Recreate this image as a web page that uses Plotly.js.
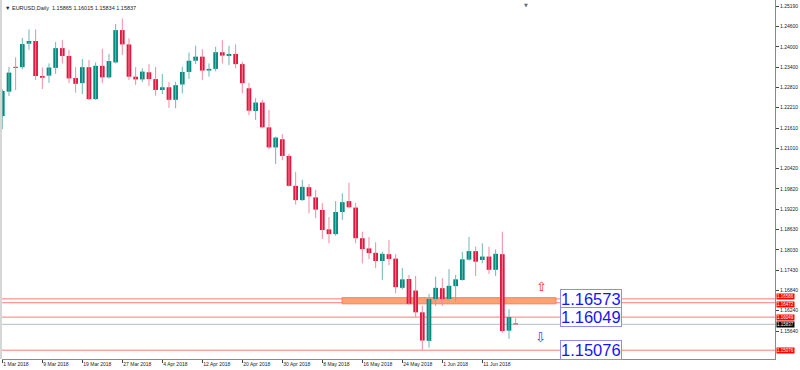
<!DOCTYPE html>
<html>
<head>
<meta charset="utf-8">
<script src="https://cdn.plot.ly/plotly-3.0.1.min.js"></script>
<style>html,body{margin:0;padding:0;background:#fff;}#chart{width:800px;height:370px;}</style>
</head>
<body>
<div id="chart"></div>
<script>
// EURUSD Daily, 1 Mar 2018 - 18 Jun 2018 (bar index 0..77)
const dates = ["1 Mar","2 Mar","5 Mar","6 Mar","7 Mar","8 Mar","9 Mar","12 Mar","13 Mar","14 Mar","15 Mar","16 Mar","19 Mar","20 Mar","21 Mar","22 Mar","23 Mar","26 Mar","27 Mar","28 Mar","29 Mar","30 Mar",
"2 Apr","3 Apr","4 Apr","5 Apr","6 Apr","9 Apr","10 Apr","11 Apr","12 Apr","13 Apr","16 Apr","17 Apr","18 Apr","19 Apr","20 Apr","23 Apr","24 Apr","25 Apr","26 Apr","27 Apr","30 Apr",
"1 May","2 May","3 May","4 May","7 May","8 May","9 May","10 May","11 May","14 May","15 May","16 May","17 May","18 May","21 May","22 May","23 May","24 May","25 May","28 May","29 May","30 May","31 May",
"1 Jun","4 Jun","5 Jun","6 Jun","7 Jun","8 Jun","11 Jun","12 Jun","13 Jun","14 Jun","15 Jun","18 Jun"];
const open  = [1.2196,1.2268,1.2341,1.2340,1.2409,1.2417,1.2314,1.2315,1.2338,1.2396,1.2373,1.2308,1.2293,1.2340,1.2246,1.2344,1.2310,1.2354,1.2449,1.2407,1.2312,1.2304,
1.2325,1.2305,1.2273,1.2281,1.2244,1.2289,1.2326,1.2359,1.2371,1.2330,1.2335,1.2384,1.2373,1.2379,1.2349,1.2278,1.2211,1.2236,1.2163,1.2104,1.2128,
1.2079,1.1991,1.1949,1.1987,1.1957,1.1920,1.1863,1.1849,1.1914,1.1946,1.1927,1.1837,1.1807,1.1794,1.1770,1.1790,1.1777,1.1691,1.1717,1.1683,1.1619,1.1535,1.1658,
1.1690,1.1658,1.1696,1.1714,1.1774,1.1799,1.1773,1.1783,1.1744,1.1790,1.1565,1.15865];
const high  = [1.2275,1.2341,1.2369,1.2426,1.2451,1.2451,1.2339,1.2351,1.2414,1.2420,1.2391,1.2340,1.2364,1.2361,1.2354,1.2394,1.2379,1.2467,1.2483,1.2425,1.2340,1.2337,
1.2349,1.2341,1.2320,1.2296,1.2297,1.2341,1.2383,1.2403,1.2393,1.2351,1.2400,1.2420,1.2403,1.2407,1.2356,1.2294,1.2249,1.2244,1.2214,1.2136,1.2143,
1.2085,1.2032,1.2009,1.1996,1.1979,1.1940,1.1899,1.1946,1.1969,1.2000,1.1941,1.1856,1.1840,1.1825,1.1797,1.1832,1.1790,1.1749,1.1729,1.1726,1.1638,1.1673,1.1724,
1.1719,1.1746,1.1729,1.1797,1.1841,1.1812,1.1822,1.1812,1.1804,1.1856,1.1628,1.16015];
const low   = [1.2158,1.2255,1.2273,1.2334,1.2391,1.2302,1.2276,1.2294,1.2320,1.2351,1.2293,1.2265,1.2261,1.2244,1.2244,1.2293,1.2307,1.2351,1.2376,1.2302,1.2288,1.2296,
1.2285,1.2256,1.2261,1.2220,1.2219,1.2263,1.2305,1.2349,1.2302,1.2312,1.2328,1.2351,1.2346,1.2337,1.2263,1.2199,1.2185,1.2160,1.2099,1.2055,1.2067,
1.1989,1.1936,1.1947,1.1910,1.1896,1.1835,1.1822,1.1844,1.1891,1.1925,1.1822,1.1763,1.1776,1.1749,1.1714,1.1758,1.1675,1.1687,1.1641,1.1604,1.1508,1.1515,1.1638,
1.1638,1.1655,1.1650,1.1712,1.1771,1.1726,1.1763,1.1732,1.1726,1.1559,1.1541,1.15834];
const close = [1.2270,1.2324,1.2338,1.2408,1.2417,1.2314,1.2309,1.2339,1.2396,1.2373,1.2307,1.2291,1.2340,1.2246,1.2344,1.2310,1.2358,1.2449,1.2407,1.2312,1.2304,1.2327,
1.2305,1.2273,1.2281,1.2244,1.2287,1.2326,1.2359,1.2371,1.2330,1.2335,1.2384,1.2374,1.2379,1.2349,1.2293,1.2212,1.2236,1.2163,1.2104,1.2133,1.2079,
1.1991,1.1949,1.1988,1.1960,1.1921,1.1861,1.1849,1.1914,1.1943,1.1928,1.1837,1.1805,1.1793,1.1770,1.1791,1.1776,1.1693,1.1716,1.1644,1.1619,1.1536,1.1658,1.1691,
1.1658,1.1697,1.1716,1.1775,1.1799,1.1768,1.1783,1.1744,1.1791,1.1564,1.1605,1.15837];

const xTickIdx  = [0,6,12,18,24,30,36,42,48,54,60,66,72];
const xTickText = ["1 Mar 2018","9 Mar 2018","19 Mar 2018","27 Mar 2018","4 Apr 2018","12 Apr 2018","20 Apr 2018","30 Apr 2018","8 May 2018","16 May 2018","24 May 2018","1 Jun 2018","11 Jun 2018"];
const yTickVals = [1.25190,1.24600,1.24000,1.23400,1.22810,1.22210,1.21610,1.21010,1.20420,1.19820,1.19220,1.18630,1.18030,1.17430,1.16840,1.16240,1.15640];

// horizontal levels
const redLevels   = [1.16586,1.16472,1.16049,1.15076];
const bidLevel    = 1.15837;
const boxLabels   = [1.16573,1.16049,1.15076];
const zoneLow = 1.16440, zoneHigh = 1.16620;

const UP = '#008b80', DN = '#e0173f';
const UPW = '#6fb7b2', DNW = '#f28aa0';

const idx = open.map((_, i) => i);
const wUx = [], wUy = [], wDx = [], wDy = [];
const bBase = [], bH = [], bCol = [];
idx.forEach(i => {
  const up = close[i] >= open[i];
  (up ? wUx : wDx).push(i, i, null);
  (up ? wUy : wDy).push(low[i], high[i], null);
  const lo = Math.min(open[i], close[i]);
  const h = Math.max(Math.abs(close[i] - open[i]), 0.00012);
  bBase.push(lo); bH.push(h); bCol.push(up ? UP : DN);
});

const traces = [
  {type:'scatter', mode:'lines', x:wUx, y:wUy, line:{color:UPW, width:1}, hoverinfo:'skip', connectgaps:false},
  {type:'scatter', mode:'lines', x:wDx, y:wDy, line:{color:DNW, width:1}, hoverinfo:'skip', connectgaps:false},
  {type:'bar', x:idx, y:bH, base:bBase, width:0.7, marker:{color:bCol, line:{width:0}}, hoverinfo:'skip'}
];

const FONT = 'Liberation Sans, Arial, sans-serif';
const shapes = [];
shapes.push({type:'rect', xref:'x', yref:'y', x0:50.95, x1:83.05, y0:zoneLow, y1:zoneHigh,
  fillcolor:'#ffa077', line:{color:'#ff8050', width:1}, layer:'below'});
redLevels.forEach(v => shapes.push({type:'line', xref:'paper', yref:'y', x0:0, x1:1, y0:v, y1:v,
  line:{color:'#ff7a7a', width:1}, layer:'below'}));
shapes.push({type:'line', xref:'paper', yref:'y', x0:0, x1:1, y0:bidLevel, y1:bidLevel,
  line:{color:'#b4bccb', width:1}, layer:'below'});
shapes.push({type:'rect', xref:'paper', yref:'paper', x0:-0.0027, x1:0, y0:0, y1:1,
  fillcolor:'#d6d6d6', line:{width:0}, layer:'above'});

const annotations = [];
annotations.push({xref:'paper', yref:'paper', x:0, y:1, xanchor:'left', yanchor:'top', xshift:1, yshift:-3,
  text:'▼ EURUSD,Daily  1.15865 1.16015 1.15834 1.15837', showarrow:false,
  font:{family:FONT, size:5.5, color:'#222'}});
annotations.push({xref:'x', yref:'paper', x:78.55, y:1, yanchor:'top', yshift:0, text:'▼', showarrow:false,
  font:{family:'DejaVu Sans', size:5, color:'#607080'}});
boxLabels.forEach(v => annotations.push({xref:'x', yref:'y', x:83.6, y:v, xanchor:'left', yanchor:'middle',
  text:v.toFixed(5), showarrow:false, font:{family:FONT, size:16.5, color:'#1414ff'},
  bgcolor:'#ffffff', bordercolor:'#8c8cff', borderwidth:1, borderpad:0}));
annotations.push({xref:'x', yref:'y', x:80.95, y:1.16964, text:'⇧', showarrow:false,
  font:{family:'DejaVu Sans', size:13, color:'#ff2a2a'}});
annotations.push({xref:'x', yref:'y', x:80.8, y:1.15435, text:'⇩', showarrow:false,
  font:{family:'DejaVu Sans', size:13, color:'#3a3aff'}});
// price tags on the right axis; the two close ones are stacked edge to edge as in the reference
const tagShift = [2.2, -2.2, 0, 0];
redLevels.forEach((v, k) => annotations.push({xref:'paper', yref:'y', x:1, y:v, xanchor:'left', yanchor:'middle', xshift:1,
  yshift:tagShift[k], text:v.toFixed(5), showarrow:false, bgcolor:'#ff0000', borderpad:0,
  font:{family:FONT, size:4.5, color:'#ffffff'}}));
annotations.push({xref:'paper', yref:'y', x:1, y:bidLevel, xanchor:'left', yanchor:'middle', xshift:1,
  text:bidLevel.toFixed(5), showarrow:false, bgcolor:'#000000', borderpad:0,
  font:{family:FONT, size:4.5, color:'#ffffff'}});

const layout = {
  width:800, height:370,
  margin:{l:2, r:25, t:0, b:11, pad:0},
  paper_bgcolor:'#ffffff', plot_bgcolor:'#ffffff',
  showlegend:false, hovermode:false, barmode:'overlay',
  xaxis:{range:[-0.045,115.9], showgrid:false, zeroline:false, showline:true, linecolor:'#8a8a8a', linewidth:1,
    mirror:true, ticks:'outside', ticklen:3, tickcolor:'#444', tickvals:xTickIdx, ticktext:xTickText,
    ticklabelposition:'outside right', tickfont:{family:FONT, size:5, color:'#222'}, fixedrange:true},
  yaxis:{range:[1.148171,1.253759], side:'right', showgrid:false, zeroline:false, showline:true,
    linecolor:'#8a8a8a', linewidth:1, ticks:'outside', ticklen:3, tickcolor:'#444',
    tickvals:yTickVals, ticktext:yTickVals.map(v=>v.toFixed(5)),
    tickfont:{family:FONT, size:5, color:'#222'}, fixedrange:true},
  shapes:shapes, annotations:annotations
};

Plotly.newPlot('chart', traces, layout, {displayModeBar:false, staticPlot:true});
</script>
</body>
</html>
